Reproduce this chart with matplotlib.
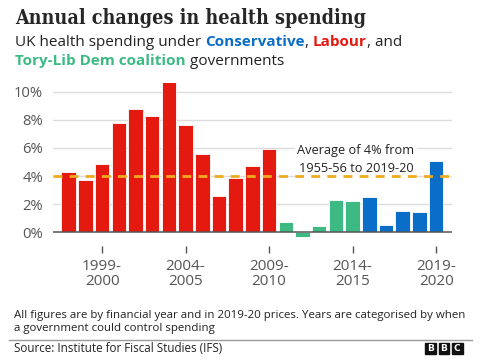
import matplotlib
matplotlib.use("Agg")
import matplotlib.pyplot as plt
from matplotlib.patches import Rectangle

years = ["1997-98", "1998-99", "1999-00", "2000-01", "2001-02", "2002-03", "2003-04",
         "2004-05", "2005-06", "2006-07", "2007-08", "2008-09", "2009-10",
         "2010-11", "2011-12", "2012-13", "2013-14", "2014-15",
         "2015-16", "2016-17", "2017-18", "2018-19", "2019-20"]
changes = [4.3, 3.7, 4.85, 7.8, 8.75, 8.3, 10.8, 7.6, 5.55, 2.55, 3.85, 4.7, 5.9,
           0.73, -0.32, 0.45, 2.3, 2.25,
           2.48, 0.5, 1.52, 1.47, 5.05]
government = ["Labour"] * 13 + ["Coalition"] * 5 + ["Conservative"] * 5
gov_colors = {"Labour": "#e4190f", "Coalition": "#3dba84", "Conservative": "#0a6ec8"}
tick_idx = [2, 7, 12, 17, 22]
tick_labels = ["1999-\n2000", "2004-\n2005", "2009-\n2010", "2014-\n2015", "2019-\n2020"]
yticks = [0, 2, 4, 6, 8, 10]
average = 4

SANS = "Open Sans"
W, H = 499, 363
fig = plt.figure(figsize=(W / 100, H / 100), dpi=100)
fig.patch.set_facecolor("white")

ax = fig.add_axes([53 / W, 1 - 246.4 / H, 399 / W, (246.4 - 83.3) / H])
ax.set_xlim(-0.94, 22.95)
ax.set_ylim(-1.0, 10.6)
for s in ax.spines.values():
    s.set_visible(False)
for y in yticks[1:]:
    ax.axhline(y, color="#dcdcdc", lw=1, zorder=0)
xs = list(range(len(changes)))
ax.bar(xs, changes, width=0.87, color=[gov_colors[g] for g in government],
       edgecolor="white", linewidth=0.6, zorder=2)
ax.axhline(0, color="#555555", lw=1.1, zorder=3)
ax.axhline(average, color="#f0aa1e", lw=2, ls=(0, (3.2, 2.6)), zorder=6)
ax.set_yticks(yticks)
ax.set_yticklabels([f"{v}%" for v in yticks], fontsize=10.6, color="#555555", family=SANS)
ax.tick_params(axis="y", length=0, pad=7)
ax.set_xticks(tick_idx)
ax.set_xticklabels(tick_labels, fontsize=11, color="#555555", family=SANS, linespacing=0.98)
ax.tick_params(axis="x", length=5, width=1, color="#555555", pad=4)

ax.text(17.2, 5.2, "Average of 4% from\n1955-56 to 2019-20", ha="center", va="center",
        fontsize=9.2, family=SANS, color="#222222", linespacing=1.5, zorder=5,
        bbox=dict(facecolor="white", edgecolor="none", pad=2))

# Title
fig.text(15 / W, 1 - 8 / H, "Annual changes in health spending", ha="left", va="top",
         fontsize=14.1, family="DejaVu Serif", fontweight="bold", fontstretch="condensed",
         color="#262626")

renderer = fig.canvas.get_renderer()

def colored_line(x_px, y_px, parts, size):
    x = x_px
    for txt, col, wt in parts:
        t = fig.text(x / W, 1 - y_px / H, txt, ha="left", va="baseline", fontsize=size,
                     family=SANS, color=col, fontweight=wt)
        bb = t.get_window_extent(renderer=renderer)
        x += bb.width

colored_line(15, 46, [("UK health spending under ", "#222222", "normal"),
                      ("Conservative", gov_colors["Conservative"], "bold"),
                      (", ", "#222222", "normal"),
                      ("Labour", gov_colors["Labour"], "bold"),
                      (", and", "#222222", "normal")], 11.0)
colored_line(15, 65, [("Tory-Lib Dem coalition", gov_colors["Coalition"], "bold"),
                      (" governments", "#222222", "normal")], 11.0)

fig.text(14 / W, 1 - 310 / H,
         "All figures are by financial year and in 2019-20 prices. Years are categorised by when\na government could control spending",
         ha="left", va="top", fontsize=8.25, family=SANS, color="#222222", linespacing=1.2)
fig.add_artist(plt.Line2D([9 / W, 472 / W], [1 - 339.5 / H, 1 - 339.5 / H], color="#9a9a9a", lw=1))
fig.text(14 / W, 1 - 348 / H, "Source: Institute for Fiscal Studies (IFS)", ha="left", va="center",
         fontsize=8.35, family=SANS, color="#222222")
for i, letter in enumerate("BBC"):
    x0 = 425 + i * 13.5
    fig.add_artist(Rectangle((x0 / W, 1 - 353.5 / H), 10.5 / W, 10.5 / H, color="#111111",
                             transform=fig.transFigure))
    fig.text((x0 + 5.25) / W, 1 - 348.2 / H, letter, ha="center", va="center", fontsize=6.5,
             fontweight="bold", color="white", family="DejaVu Sans")

fig.savefig("out.png", dpi=100, facecolor="white")
